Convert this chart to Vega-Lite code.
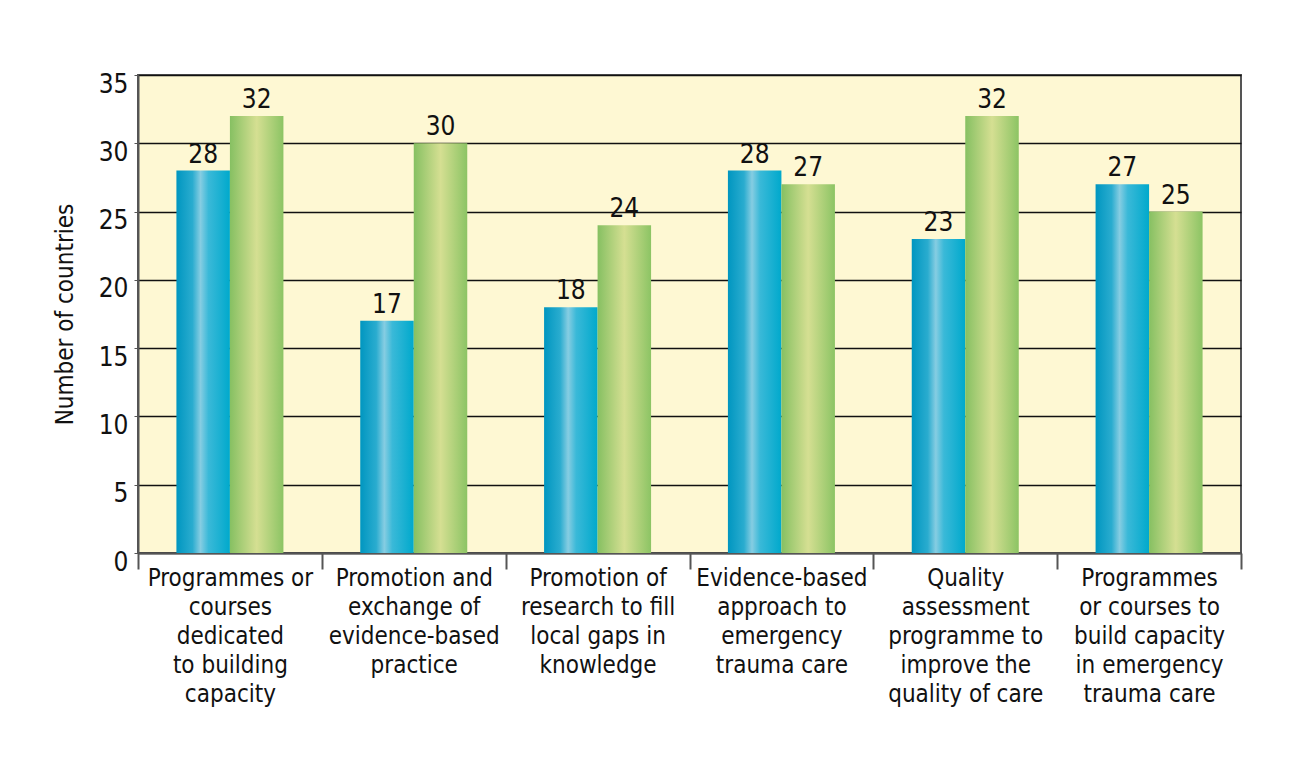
{
  "$schema": "https://vega.github.io/schema/vega-lite/v6.json",
  "autosize": {"type": "none"},
  "width": 1103,
  "height": 478,
  "padding": {"left": 138, "top": 75, "right": 49, "bottom": 223},
  "background": "white",
  "data": {
    "values": [
      {"cat": "Programmes or|courses|dedicated|to building|capacity", "series": "A", "value": 28},
      {"cat": "Programmes or|courses|dedicated|to building|capacity", "series": "B", "value": 32},
      {"cat": "Promotion and|exchange of|evidence-based|practice", "series": "A", "value": 17},
      {"cat": "Promotion and|exchange of|evidence-based|practice", "series": "B", "value": 30},
      {"cat": "Promotion of|research to fill|local gaps in|knowledge", "series": "A", "value": 18},
      {"cat": "Promotion of|research to fill|local gaps in|knowledge", "series": "B", "value": 24},
      {"cat": "Evidence-based|approach to|emergency|trauma care", "series": "A", "value": 28},
      {"cat": "Evidence-based|approach to|emergency|trauma care", "series": "B", "value": 27},
      {"cat": "Quality|assessment|programme to|improve the|quality of care", "series": "A", "value": 23},
      {"cat": "Quality|assessment|programme to|improve the|quality of care", "series": "B", "value": 32},
      {"cat": "Programmes|or courses to|build capacity|in emergency|trauma care", "series": "A", "value": 27},
      {"cat": "Programmes|or courses to|build capacity|in emergency|trauma care", "series": "B", "value": 25}
    ]
  },
  "encoding": {
    "x": {
      "field": "cat",
      "type": "nominal",
      "sort": null,
      "scale": {"paddingInner": 0, "paddingOuter": 0},
      "axis": {
        "title": null,
        "labelAngle": 0,
        "labelExpr": "split(datum.label, '|')",
        "labelFont": "Liberation Sans Narrow, DejaVu Sans Condensed, sans-serif",
        "labelFontSize": 24,
        "labelColor": "#111111",
        "labelLineHeight": 29,
        "labelLimit": 0,
        "labelBaseline": "top",
        "labelPadding": -3,
        "tickBand": "extent",
        "tickSize": 16,
        "tickColor": "#555555",
        "tickWidth": 2,
        "domainColor": "#555555",
        "domainWidth": 2,
        "grid": false
      }
    },
    "xOffset": {"field": "series", "type": "nominal", "scale": {"domain": ["A", "B"], "paddingInner": 0, "paddingOuter": 0.718}},
    "y": {
      "field": "value",
      "type": "quantitative",
      "scale": {"domain": [0, 35], "nice": false},
      "axis": {
        "title": "Number of countries",
        "titleFont": "Liberation Sans Narrow, DejaVu Sans Condensed, sans-serif",
        "titleFontSize": 24,
        "titleFontWeight": "normal",
        "titleColor": "#111111",
        "titlePadding": 21,
        "values": [0, 5, 10, 15, 20, 25, 30, 35],
        "labelFont": "Liberation Sans Narrow, DejaVu Sans Condensed, sans-serif",
        "labelFontSize": 26,
        "labelColor": "#111111",
        "labelBaseline": "top",
        "labelOffset": -4,
        "labelPadding": 6,
        "tickSize": 4,
        "tickColor": "#555555",
        "domainColor": "#555555",
        "domainWidth": 2,
        "grid": true,
        "gridColor": "#111111",
        "gridWidth": 1.3
      }
    }
  },
  "layer": [
    {
      "transform": [{"filter": "datum.series === 'A'"}],
      "mark": {
        "type": "bar",
        "color": {
          "gradient": "linear",
          "x1": 0, "y1": 0, "x2": 1, "y2": 0,
          "stops": [
            {"offset": 0, "color": "#0096c0"},
            {"offset": 0.3, "color": "#2aaccf"},
            {"offset": 0.45, "color": "#86cde2"},
            {"offset": 0.6, "color": "#3ab9d8"},
            {"offset": 1, "color": "#00a9cc"}
          ]
        }
      }
    },
    {
      "transform": [{"filter": "datum.series === 'B'"}],
      "mark": {
        "type": "bar",
        "color": {
          "gradient": "linear",
          "x1": 0, "y1": 0, "x2": 1, "y2": 0,
          "stops": [
            {"offset": 0, "color": "#86c062"},
            {"offset": 0.5, "color": "#d5df92"},
            {"offset": 1, "color": "#8cc464"}
          ]
        }
      }
    },
    {
      "mark": {"type": "text", "baseline": "bottom", "dy": -3, "font": "Liberation Sans Narrow, DejaVu Sans Condensed, sans-serif", "fontSize": 26, "color": "#111111"},
      "encoding": {"text": {"field": "value", "type": "quantitative"}}
    }
  ],
  "config": {
    "view": {"fill": "#fef8d3", "stroke": "#555555", "strokeWidth": 2}
  }
}
